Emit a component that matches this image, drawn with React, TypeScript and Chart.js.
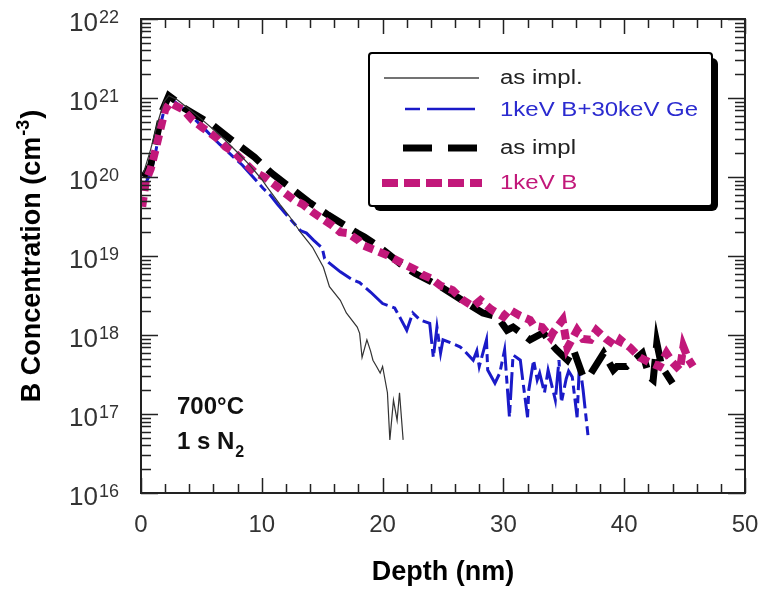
import React, { useEffect, useRef } from "react";
import { Chart, registerables } from "chart.js";

Chart.register(...registerables);

// ---------- DATA ----------
const thinDepth = [0.2, 0.8, 1.4, 1.9, 2.3, 3.0, 4.0, 5.0, 6.0, 7.0, 8.2, 9.0, 10.0, 10.4, 11.5, 12.3, 13.2, 14.2, 15.1, 15.6, 16.5, 17.0, 17.9, 18.1, 18.3, 18.7, 19.0, 19.2, 19.5, 19.8, 20.0, 20.4, 20.6, 20.9, 21.2, 21.4, 21.7];
const thinConc = [1.12e20, 2.24e20, 5.0e20, 8.9e20, 1.07e21, 9.5e20, 7.2e20, 5.4e20, 4.0e20, 2.9e20, 1.9e20, 1.41e20, 9.3e19, 7.6e19, 4.5e19, 3.16e19, 2.0e19, 1.29e19, 7.2e18, 4.1e18, 2.75e18, 1.9e18, 1.26e18, 1.05e18, 5.2e17, 8.7e17, 6.3e17, 4.8e17, 4.0e17, 3.3e17, 4.0e17, 1.86e17, 4.7e16, 1.5e17, 8.3e16, 1.86e17, 4.7e16];

const geDepth = [0.3, 0.8, 1.2, 1.6, 2.0, 2.4, 3.0, 4.0, 5.3, 6.5, 8.4, 10.1, 10.7, 11.3, 12.3, 13.2, 13.7, 14.3, 15.0, 15.2, 15.6, 16.5, 17.5, 18.1, 19.0, 20.0, 21.0, 21.5, 22.0, 22.5, 23.1, 23.9, 24.2, 24.5, 24.8, 25.0, 25.7, 26.4, 26.7, 27.5, 27.8, 28.0, 28.6, 28.7, 29.3, 29.7, 30.1, 30.5, 30.8, 31.4, 31.6, 32.0, 32.1, 32.5, 32.8, 33.0, 33.4, 33.7, 34.3, 34.6, 34.8, 35.2, 35.4, 35.7, 36.1, 36.3, 36.6, 37.0];
const geConc = [7.9e19, 1.12e20, 2.0e20, 4.5e20, 7.9e20, 1.0e21, 8.5e20, 6.3e20, 4.0e20, 2.6e20, 1.41e20, 7.2e19, 5.9e19, 4.5e19, 3.0e19, 2.1e19, 1.95e19, 1.58e19, 1.26e19, 9.3e18, 8.1e18, 6.3e18, 5.0e18, 4.6e18, 3.5e18, 2.5e18, 2.2e18, 1.6e18, 1.15e18, 1.9e18, 1.55e18, 1.4e18, 5.2e17, 1.26e18, 5.9e17, 8.7e17, 7.9e17, 7.1e17, 6.5e17, 4.8e17, 6.3e17, 4.0e17, 8.7e17, 3.6e17, 2.45e17, 3.3e17, 6.5e17, 9.1e16, 5.6e17, 4.8e17, 2.7e17, 9.1e16, 2.0e17, 4.8e17, 2.7e17, 3.3e17, 1.86e17, 3.6e17, 1.5e17, 4.8e17, 1.4e17, 2.8e17, 3.5e17, 2.95e17, 9.1e16, 4.5e17, 2.0e17, 5.4e16];

const thickDepth = [0.2, 0.8, 1.3, 1.8, 2.3, 3.0, 3.6, 5.9, 7.5, 9.4, 10.8, 12.6, 14.0, 15.5, 16.6, 17.9, 18.5, 19.5, 20.5, 21.5, 22.7, 24.8, 26.2, 28.3, 29.5, 30.3, 30.8, 32.2, 33.3, 33.9, 34.4, 35.3, 35.8, 36.6, 37.2, 38.3, 39.1, 39.4, 40.2, 41.5, 42.1, 42.4, 42.7, 43.1, 44.0];
const thickConc = [1.0e20, 1.41e20, 3.2e20, 7.1e20, 1.07e21, 8.9e20, 7.4e20, 4.6e20, 2.95e20, 1.78e20, 1.12e20, 6.9e19, 4.7e19, 3.3e19, 2.6e19, 1.95e19, 1.74e19, 1.38e19, 1.05e19, 7.9e18, 6.0e18, 4.1e18, 3.0e18, 1.9e18, 1.7e18, 1.15e18, 1.26e18, 8.7e17, 1.07e18, 7.9e17, 6.5e17, 4.8e17, 6.5e17, 2.95e17, 3.2e17, 5.9e17, 3.6e17, 4.0e17, 4.0e17, 5.9e17, 2.95e17, 2.7e17, 7.9e17, 4.0e17, 2.45e17];

const bDepth = [0.1, 0.4, 0.8, 1.2, 1.6, 2.0, 2.4, 3.5, 4.3, 5.1, 6.3, 7.0, 7.8, 8.6, 9.4, 10.3, 11.1, 11.9, 12.6, 13.4, 14.2, 15.1, 15.8, 16.5, 17.1, 18.0, 18.3, 19.3, 20.4, 21.5, 22.8, 23.3, 24.0, 24.8, 25.8, 26.6, 27.5, 28.1, 29.0, 30.0, 30.5, 31.3, 32.2, 32.5, 33.2, 33.9, 34.1, 34.9, 35.3, 36.1, 36.6, 37.2, 37.7, 38.5, 39.4, 39.7, 40.5, 41.3, 42.1, 42.9, 43.5, 44.0, 44.6, 44.9, 45.3, 45.7];
const bConc = [4.2e19, 8.9e19, 1.26e20, 2.2e20, 4.0e20, 7.1e20, 8.7e20, 7.1e20, 5.2e20, 4.2e20, 3.1e20, 2.4e20, 2.0e20, 1.51e20, 1.15e20, 9.8e19, 7.9e19, 6.3e19, 5.2e19, 4.5e19, 3.6e19, 2.9e19, 2.45e19, 2.0e19, 1.95e19, 1.58e19, 1.38e19, 1.2e19, 1.02e19, 8.3e18, 6.6e18, 5.8e18, 5.2e18, 4.2e18, 3.7e18, 2.8e18, 2.3e18, 2.75e18, 2.1e18, 1.7e18, 2.1e18, 1.78e18, 1.55e18, 1.32e18, 1.26e18, 9.3e17, 1.07e18, 1.55e18, 6.9e17, 1.15e18, 8.9e17, 8.7e17, 1.15e18, 8.9e17, 7.1e17, 8.7e17, 6.9e17, 5.2e17, 4.5e17, 4.0e17, 5.9e17, 4.5e17, 3.6e17, 7.1e17, 5.0e17, 4.0e17];

const seriesNames = ["as impl.", "1keV B+30keV Ge", "as impl", "1keV B"];
const xTickValues = [0, 10, 20, 30, 40, 50];
const xTickLabels = ["0", "10", "20", "30", "40", "50"];
const yExponents = [16, 17, 18, 19, 20, 21, 22];
const xTitle = "Depth (nm)";
const yTitleMain = "B Concentration (cm";
const yTitleSup = "-3";
const noteLine1 = "700°C";
const noteLine2 = "1 s N";
const noteSub = "2";

// ---------- STYLE ----------
const FONT = "'Liberation Sans', Arial, Helvetica, sans-serif";
const C_THIN = "#333333";
const C_BLUE = "#1a1ac8";
const C_BLACK = "#000000";
const C_MAG = "#c2187a";

function pts(xs: number[], ys: number[]) {
  return xs.map((x, i) => ({ x, y: ys[i] }));
}

const decorPlugin = {
  id: "decor",
  afterDraw(chart: any) {
    const { ctx, chartArea: a, scales } = chart;
    const xs = scales.x;
    const ys = scales.y;
    ctx.save();

    // frame
    ctx.strokeStyle = "#222";
    ctx.lineWidth = 2;
    ctx.strokeRect(a.left, a.top, a.right - a.left, a.bottom - a.top);

    // x ticks (inward, top and bottom)
    ctx.lineWidth = 1.5;
    for (let v = 0; v <= 50; v += 2) {
      const px = Math.round(xs.getPixelForValue(v)) + 0.5;
      const len = v % 10 === 0 ? 15 : 9;
      ctx.beginPath();
      ctx.moveTo(px, a.bottom);
      ctx.lineTo(px, a.bottom - len);
      ctx.moveTo(px, a.top);
      ctx.lineTo(px, a.top + len);
      ctx.stroke();
    }
    // y ticks (log, inward, left and right)
    for (let e = 16; e <= 22; e++) {
      for (let k = 1; k <= 9; k++) {
        if (e === 22 && k > 1) break;
        const py = Math.round(ys.getPixelForValue(k * Math.pow(10, e))) + 0.5;
        const len = k === 1 ? 17 : 10;
        ctx.beginPath();
        ctx.moveTo(a.left, py);
        ctx.lineTo(a.left + len, py);
        ctx.moveTo(a.right, py);
        ctx.lineTo(a.right - len, py);
        ctx.stroke();
      }
    }

    // x tick labels
    ctx.fillStyle = "#333";
    ctx.font = `24px ${FONT}`;
    ctx.textAlign = "center";
    ctx.textBaseline = "alphabetic";
    xTickValues.forEach((v, i) => {
      ctx.fillText(xTickLabels[i], xs.getPixelForValue(v), 532);
    });

    // y tick labels 10^n
    yExponents.forEach((e) => {
      const py = ys.getPixelForValue(Math.pow(10, e));
      ctx.font = `18px ${FONT}`;
      const sup = String(e);
      const supW = ctx.measureText(sup).width;
      const rightX = 119;
      ctx.textAlign = "left";
      ctx.fillText(sup, rightX - supW, py + 4);
      ctx.font = `26px ${FONT}`;
      ctx.textAlign = "right";
      ctx.fillText("10", rightX - supW - 1, py + 12);
    });

    // x title
    ctx.fillStyle = "#000";
    ctx.font = `bold 27px ${FONT}`;
    ctx.textAlign = "center";
    ctx.fillText(xTitle, (a.left + a.right) / 2, 580);

    // y title (rotated, with superscript)
    ctx.save();
    ctx.translate(40, (a.top + a.bottom) / 2);
    ctx.rotate(-Math.PI / 2);
    ctx.font = `bold 27px ${FONT}`;
    const w1 = ctx.measureText(yTitleMain).width;
    const wp = ctx.measureText(")").width;
    ctx.font = `bold 18px ${FONT}`;
    const w2 = ctx.measureText(yTitleSup).width;
    const total = w1 + w2 + wp + 2;
    let sx = -total / 2;
    ctx.textAlign = "left";
    ctx.font = `bold 27px ${FONT}`;
    ctx.fillText(yTitleMain, sx, 0);
    sx += w1 + 1;
    ctx.font = `bold 18px ${FONT}`;
    ctx.fillText(yTitleSup, sx, -11);
    sx += w2 + 1;
    ctx.font = `bold 27px ${FONT}`;
    ctx.fillText(")", sx, 0);
    ctx.restore();

    // annotation
    ctx.textAlign = "left";
    ctx.fillStyle = "#111";
    ctx.font = `bold 24px ${FONT}`;
    ctx.fillText(noteLine1, 177, 414);
    ctx.fillText(noteLine2, 177, 449);
    const nW = ctx.measureText(noteLine2).width;
    ctx.font = `bold 16px ${FONT}`;
    ctx.fillText(noteSub, 177 + nW + 1, 457);

    // legend box with shadow
    ctx.fillStyle = "#000";
    ctx.beginPath();
    (ctx as any).roundRect(374, 58, 344, 153, 6);
    ctx.fill();
    ctx.fillStyle = "#fff";
    ctx.beginPath();
    (ctx as any).roundRect(369, 53, 343, 153, 3);
    ctx.fill();
    ctx.strokeStyle = "#000";
    ctx.lineWidth = 2;
    ctx.stroke();

    const seg = (x1: number, x2: number, y: number, color: string, w: number) => {
      ctx.strokeStyle = color;
      ctx.lineWidth = w;
      ctx.lineCap = "butt";
      ctx.beginPath();
      ctx.moveTo(x1, y);
      ctx.lineTo(x2, y);
      ctx.stroke();
    };
    seg(384, 479, 78, "#444", 1.5);
    seg(405, 420, 109, C_BLUE, 2.5);
    seg(427, 475, 109, C_BLUE, 2.5);
    seg(403, 432, 148, C_BLACK, 7);
    seg(448, 477, 148, C_BLACK, 7);
    [[382, 398], [404, 420], [426, 442], [448, 464], [470, 482]].forEach(([p, q]) =>
      seg(p, q, 183, C_MAG, 8)
    );

    const legendText = (t: string, y: number, color: string) => {
      ctx.save();
      ctx.translate(500, y);
      ctx.scale(1.2, 1);
      ctx.fillStyle = color;
      ctx.font = `20px ${FONT}`;
      ctx.textAlign = "left";
      ctx.fillText(t, 0, 0);
      ctx.restore();
    };
    legendText(seriesNames[0], 84, "#222");
    legendText(seriesNames[1], 116, "#2b2bd0");
    legendText(seriesNames[2], 154, "#222");
    legendText(seriesNames[3], 189, C_MAG);

    ctx.restore();
  },
};

export default function App() {
  const ref = useRef<HTMLCanvasElement | null>(null);

  useEffect(() => {
    document.body.style.margin = "0";
    const canvas = ref.current;
    if (!canvas) return;
    const chart = new Chart(canvas, {
      type: "line",
      data: {
        datasets: [
          {
            label: seriesNames[0],
            data: pts(thinDepth, thinConc),
            borderColor: C_THIN,
            borderWidth: 1.2,
            pointRadius: 0,
            tension: 0,
            order: 0,
          },
          {
            label: seriesNames[1],
            data: pts(geDepth, geConc),
            borderColor: C_BLUE,
            borderWidth: 3,
            borderDash: [28, 5, 8, 5],
            pointRadius: 0,
            tension: 0,
            order: 3,
          },
          {
            label: seriesNames[2],
            data: pts(thickDepth, thickConc),
            borderColor: C_BLACK,
            borderWidth: 7,
            borderDash: [24, 11],
            borderCapStyle: "butt",
            pointRadius: 0,
            tension: 0,
            order: 2,
          },
          {
            label: seriesNames[3],
            data: pts(bDepth, bConc),
            borderColor: C_MAG,
            borderWidth: 8,
            borderDash: [10, 6],
            borderCapStyle: "butt",
            pointRadius: 0,
            tension: 0,
            order: 1,
          },
        ],
      },
      options: {
        responsive: false,
        animation: false,
        devicePixelRatio: 1,
        layout: { padding: { left: 141, top: 19, right: 18, bottom: 97 } },
        plugins: { legend: { display: false }, tooltip: { enabled: false } },
        scales: {
          x: { type: "linear", min: 0, max: 50, display: false },
          y: { type: "logarithmic", min: 1e16, max: 1e22, display: false },
        },
      },
      plugins: [decorPlugin],
    } as any);
    return () => chart.destroy();
  }, []);

  return (
    <div style={{ width: 763, height: 590, background: "#fff" }}>
      <canvas ref={ref} width={763} height={590} style={{ display: "block" }} />
    </div>
  );
}
